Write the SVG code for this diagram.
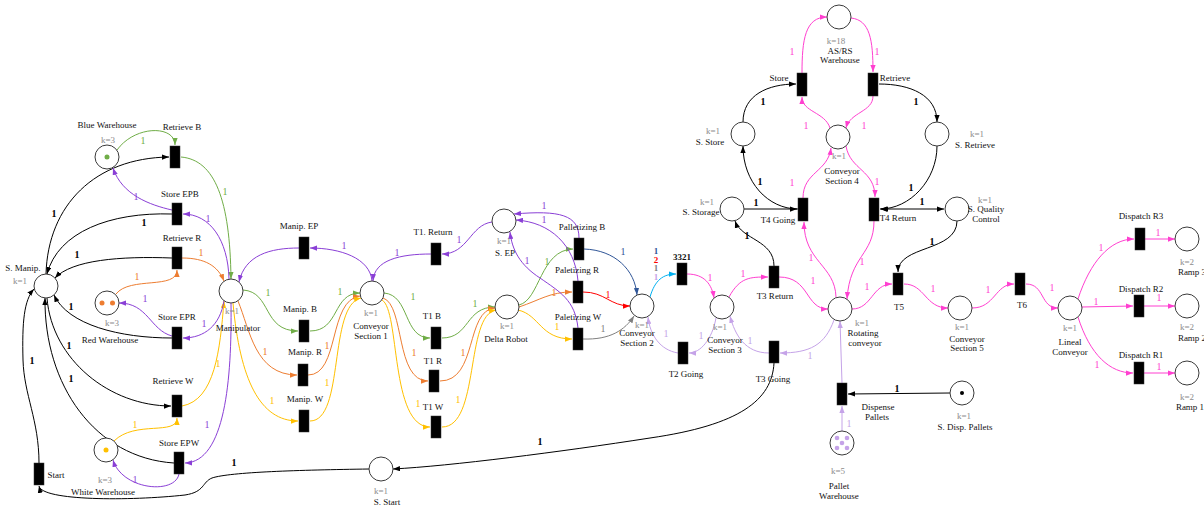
<svg xmlns="http://www.w3.org/2000/svg" width="1204" height="506" viewBox="0 0 1204 506">
<style>
.pl{fill:#fff;stroke:#3a3a3a;stroke-width:1}
.tr{fill:#000;stroke:#333;stroke-width:0.5}
text{font-family:"Liberation Serif","Times New Roman",serif;text-anchor:middle}
.t{font-size:9px;fill:#111}
.kk{font-size:9px;fill:#8c8c8c}
.n{font-size:10px}
.nb{font-size:10px;font-weight:bold;fill:#000}
.a{fill:none;stroke-width:1}
.k{stroke:#000}.g{stroke:#70ad47}.o{stroke:#ed7d31}.y{stroke:#ffc000}.p{stroke:#8a3fd6}
.b{stroke:#2f5597}.r{stroke:#ff0000}.gy{stroke:#7f7f7f}.l{stroke:#c5a3e8}.c{stroke:#00b0f0}.m{stroke:#ff3fd0}
.fg{fill:#70ad47}.fo{fill:#ed7d31}.fy{fill:#ffc000}.fp{fill:#8a3fd6}.fb{fill:#2f5597}.fr{fill:#ff0000}.fgy{fill:#7f7f7f}.fl{fill:#c5a3e8}.fm{fill:#ff3fd0}
.k{marker-end:url(#ak)}.g{marker-end:url(#ag)}.o{marker-end:url(#ao)}.y{marker-end:url(#ay)}.p{marker-end:url(#ap)}
.b{marker-end:url(#ab)}.r{marker-end:url(#ar)}.gy{marker-end:url(#agy)}.l{marker-end:url(#al)}.c{marker-end:url(#ac)}.m{marker-end:url(#am)}
</style>
<defs>
<marker id="ak" viewBox="0 0 8 6" refX="8" refY="3" markerWidth="7" markerHeight="5.5" orient="auto-start-reverse" markerUnits="userSpaceOnUse"><path d="M0,0L8,3L0,6z" fill="#000"/></marker>
<marker id="ag" viewBox="0 0 8 6" refX="8" refY="3" markerWidth="7" markerHeight="5.5" orient="auto" markerUnits="userSpaceOnUse"><path d="M0,0L8,3L0,6z" fill="#70ad47"/></marker>
<marker id="ao" viewBox="0 0 8 6" refX="8" refY="3" markerWidth="7" markerHeight="5.5" orient="auto" markerUnits="userSpaceOnUse"><path d="M0,0L8,3L0,6z" fill="#ed7d31"/></marker>
<marker id="ay" viewBox="0 0 8 6" refX="8" refY="3" markerWidth="7" markerHeight="5.5" orient="auto" markerUnits="userSpaceOnUse"><path d="M0,0L8,3L0,6z" fill="#ffc000"/></marker>
<marker id="ap" viewBox="0 0 8 6" refX="8" refY="3" markerWidth="7" markerHeight="5.5" orient="auto" markerUnits="userSpaceOnUse"><path d="M0,0L8,3L0,6z" fill="#8a3fd6"/></marker>
<marker id="ab" viewBox="0 0 8 6" refX="8" refY="3" markerWidth="7" markerHeight="5.5" orient="auto" markerUnits="userSpaceOnUse"><path d="M0,0L8,3L0,6z" fill="#2f5597"/></marker>
<marker id="ar" viewBox="0 0 8 6" refX="8" refY="3" markerWidth="7" markerHeight="5.5" orient="auto" markerUnits="userSpaceOnUse"><path d="M0,0L8,3L0,6z" fill="#ff0000"/></marker>
<marker id="agy" viewBox="0 0 8 6" refX="8" refY="3" markerWidth="7" markerHeight="5.5" orient="auto" markerUnits="userSpaceOnUse"><path d="M0,0L8,3L0,6z" fill="#7f7f7f"/></marker>
<marker id="al" viewBox="0 0 8 6" refX="8" refY="3" markerWidth="7" markerHeight="5.5" orient="auto" markerUnits="userSpaceOnUse"><path d="M0,0L8,3L0,6z" fill="#c5a3e8"/></marker>
<marker id="ac" viewBox="0 0 8 6" refX="8" refY="3" markerWidth="7" markerHeight="5.5" orient="auto" markerUnits="userSpaceOnUse"><path d="M0,0L8,3L0,6z" fill="#00b0f0"/></marker>
<marker id="am" viewBox="0 0 8 6" refX="8" refY="3" markerWidth="7" markerHeight="5.5" orient="auto" markerUnits="userSpaceOnUse"><path d="M0,0L8,3L0,6z" fill="#ff3fd0"/></marker>
</defs>
<rect width="1204" height="506" fill="#fff"/>

<g id="connectors">
<!-- black -->
<path class="a k" d="M46,274 C48,205 95,158 169,157"/>
<path class="a k" d="M172,214 C110,212 58,232 47,274"/>
<path class="a k" d="M172,258 C120,256 72,260 55,278"/>
<path class="a k" d="M172,338 C120,338 68,325 54,295"/>
<path class="a k" d="M47,298 C52,360 110,406 171,406"/>
<path class="a k" d="M174,463 C95,458 44,385 45,298"/>
<path class="a k" d="M39,463 C39,420 24,395 23,360 C22,322 24,300 34,289"/>
<path class="a k" d="M369,469 C300,470 230,472 212,478 C202,482 205,492 185,495 C130,501 42,501 39,486"/>
<path class="a k" d="M774,363 C772,400 740,425 650,438 C560,452 450,466 393,469"/>
<path class="a k" d="M774,266 C774,240 742,240 735,221"/>
<path class="a k" d="M744,209 L797,209"/>
<path class="a k" d="M743,122 C743,95 768,84 796,84"/>
<path class="a k" d="M879,84 C910,84 937,95 937,122"/>
<path class="a k" d="M798,209 C768,209 743,182 743,146"/>
<path class="a k" d="M937,146 C937,180 910,209 880,209"/>
<path class="a k" d="M881,209 L944,209" marker-start="url(#ak)"/>
<path class="a k" d="M957,221 C957,252 898,245 898,272"/>
<path class="a k" d="M950,393 L848,394"/>
<!-- green -->
<path class="a g" d="M117,150 C135,125 175,125 175,145"/>
<path class="a g" d="M181,157 C215,160 230,200 231,279"/>
<path class="a g" d="M243,290 C272,292 262,331 298,331"/>
<path class="a g" d="M310,331 C340,331 332,293 360,293"/>
<path class="a g" d="M384,293 C410,295 403,338 430,338"/>
<path class="a g" d="M442,338 C470,338 465,307 495,307"/>
<path class="a g" d="M519,305 C540,300 540,250 573,249"/>
<!-- orange -->
<path class="a o" d="M182,258 C205,258 218,266 224,281"/>
<path class="a o" d="M116,294 C130,276 177,290 177,270"/>
<path class="a o" d="M238,301 C250,330 255,375 297,375"/>
<path class="a o" d="M308,375 C340,375 328,300 360,296"/>
<path class="a o" d="M383,298 C405,305 395,381 428,381"/>
<path class="a o" d="M440,381 C478,381 465,310 495,308"/>
<path class="a o" d="M519,307 C540,300 550,292 572,292"/>
<!-- yellow -->
<path class="a y" d="M182,406 C215,400 220,350 224,301"/>
<path class="a y" d="M114,441 C135,420 177,436 177,418"/>
<path class="a y" d="M233,303 C240,380 260,421 298,421"/>
<path class="a y" d="M310,421 C345,421 328,305 361,298"/>
<path class="a y" d="M382,300 C400,310 390,427 430,427"/>
<path class="a y" d="M442,427 C480,427 465,315 496,310"/>
<path class="a y" d="M518,310 C540,315 540,339 572,339"/>
<!-- purple -->
<path class="a p" d="M172,210 C150,205 122,195 113,168"/>
<path class="a p" d="M229,279 C228,240 210,214 183,214"/>
<path class="a p" d="M224,301 C220,325 205,338 183,338"/>
<path class="a p" d="M172,336 C150,330 148,303 119,303"/>
<path class="a p" d="M231,303 C232,380 225,462 185,463"/>
<path class="a p" d="M179,474 C175,495 122,490 113,460"/>
<path class="a p" d="M299,248 C270,248 245,255 239,282"/>
<path class="a p" d="M372,281 C370,258 340,248 310,248"/>
<path class="a p" d="M431,254 C400,254 374,260 373,281"/>
<path class="a p" d="M492,222 C470,225 468,254 442,254"/>
<path class="a p" d="M579,238 C579,215 560,210 514,214"/>
<path class="a p" d="M578,281 C575,245 550,222 516,220"/>
<path class="a p" d="M578,328 C575,300 560,292 540,278 C520,265 512,250 510,232"/>
<!-- others -->
<path class="a b" d="M584,249 C615,250 635,270 637,295"/>
<path class="a r" d="M583,292 C605,292 610,306 630,306"/>
<path class="a gy" d="M583,339 C610,340 625,330 634,316"/>
<path class="a l" d="M678,353 C660,350 650,335 648,317"/>
<path class="a l" d="M716,318 C712,340 700,353 689,353"/>
<path class="a l" d="M834,320 C825,345 810,353 780,353"/>
<path class="a l" d="M769,353 C745,353 735,335 730,316"/>
<path class="a l" d="M842,431 L842,406"/>
<path class="a l" d="M842,383 L840,321"/>
<path class="a c" d="M650,297 C655,280 663,274 676,274"/>
<!-- magenta -->
<path class="a m" d="M687,274 C705,274 712,285 714,298"/>
<path class="a m" d="M729,297 C740,277 750,277 768,277"/>
<path class="a m" d="M779,277 C810,277 805,309 828,309"/>
<path class="a m" d="M836,297 C835,265 804,262 804,222"/>
<path class="a m" d="M874,221 C874,255 850,255 847,299"/>
<path class="a m" d="M852,309 C872,309 872,284 892,284"/>
<path class="a m" d="M904,284 C925,284 925,308 948,308"/>
<path class="a m" d="M972,308 C995,308 995,284 1014,284"/>
<path class="a m" d="M1026,284 C1045,284 1040,308 1058,308"/>
<path class="a m" d="M1078,299 C1090,262 1110,239 1134,239"/>
<path class="a m" d="M1082,307 L1133,306"/>
<path class="a m" d="M1078,317 C1090,355 1110,373 1133,373"/>
<path class="a m" d="M1145,239 L1175,239"/>
<path class="a m" d="M1144,306 L1175,306"/>
<path class="a m" d="M1144,373 L1175,373"/>
<path class="a m" d="M802,73 C802,40 805,17 827,17"/>
<path class="a m" d="M851,18 C870,20 873,40 873,72"/>
<path class="a m" d="M830,128 C825,112 802,112 802,97"/>
<path class="a m" d="M873,96 C873,112 850,112 846,128"/>
<path class="a m" d="M803,198 C803,172 828,172 831,148"/>
<path class="a m" d="M846,146 C850,170 875,170 875,197"/>
<!-- arc weights -->
<g class="nb">
<text x="54" y="217">1</text><text x="144" y="226">1</text><text x="77" y="258">1</text><text x="71" y="310">1</text>
<text x="69" y="349">1</text><text x="71" y="382">1</text><text x="32" y="364">1</text><text x="234" y="466">1</text>
<text x="540" y="445">1</text><text x="747" y="239">1</text><text x="756" y="206">1</text><text x="763" y="105">1</text>
<text x="916" y="105">1</text><text x="760" y="185">1</text><text x="911" y="191">1</text><text x="922" y="205">1</text>
<text x="932" y="245">1</text><text x="897" y="392">1</text>
</g>
<g class="n fg">
<text x="143" y="144">1</text><text x="225" y="195">1</text><text x="268" y="296">1</text><text x="340" y="295">1</text>
<text x="413" y="300">1</text><text x="475" y="307">1</text><text x="547" y="265">1</text>
</g>
<g class="n fo">
<text x="201" y="256">1</text><text x="137" y="280">1</text><text x="265" y="355">1</text><text x="327" y="349">1</text>
<text x="414" y="356">1</text><text x="463" y="356">1</text><text x="554" y="296">1</text>
</g>
<g class="n fy">
<text x="218" y="367">1</text><text x="135" y="428">1</text><text x="272" y="404">1</text><text x="327" y="386">1</text>
<text x="418" y="407">1</text><text x="458" y="403">1</text><text x="557" y="330">1</text>
</g>
<g class="n fp">
<text x="136" y="200">1</text><text x="208" y="222">1</text><text x="204" y="327">1</text><text x="145" y="302">1</text>
<text x="207" y="428">1</text><text x="135" y="483">1</text><text x="344" y="249">1</text><text x="397" y="256">1</text>
<text x="459" y="243">1</text><text x="544" y="209">1</text><text x="544" y="223">1</text><text x="527" y="264">1</text>
</g>
<text class="n fb" x="623" y="255">1</text>
<text class="n fr" x="608" y="298">1</text>
<text class="n fgy" x="603" y="332">1</text>
<g class="n fl">
<text x="666" y="337">1</text><text x="701" y="339">1</text><text x="810" y="359">1</text><text x="750" y="344">1</text><text x="849" y="427">1</text>
</g>
<g class="n fm">
<text x="710" y="281">1</text><text x="743" y="277">1</text><text x="813" y="284">1</text><text x="811" y="261">1</text>
<text x="862" y="265">1</text><text x="867" y="290">1</text><text x="933" y="292">1</text><text x="988" y="293">1</text>
<text x="1052" y="291">1</text><text x="1101" y="251">1</text><text x="1096" y="305">1</text><text x="1097" y="368">1</text>
<text x="1158" y="236">1</text><text x="1159" y="301">1</text><text x="1159" y="370">1</text>
<text x="792" y="55">1</text><text x="877" y="55">1</text><text x="806" y="129">1</text><text x="864" y="129">1</text>
<text x="792" y="186">1</text><text x="877" y="185">1</text>
</g>
<g style="font-size:9px;font-weight:bold">
<text x="656" y="254" class="fb">1</text><text x="656" y="262.5" class="fr">2</text><text x="656" y="271" class="fgy">1</text><text x="656" y="279.5" class="fl">1</text>
</g>
</g>

<!-- places -->
<g id="p-blue-warehouse"><circle class="pl" cx="107" cy="157" r="12"/><circle cx="107" cy="157" r="2.5" fill="#70ad47"/><text class="t" x="107" y="128">Blue Warehouse</text><text class="kk" x="108" y="143">k=3</text></g>
<g id="p-s-manip"><circle class="pl" cx="46" cy="286" r="12"/><text class="t" x="23" y="271">S. Manip.</text><text class="kk" x="20" y="284">k=1</text></g>
<g id="p-red-warehouse"><circle class="pl" cx="107" cy="303" r="12"/><circle cx="102" cy="303" r="2.5" fill="#ed7d31"/><circle cx="112.5" cy="303" r="2.5" fill="#ed7d31"/><text class="kk" x="112" y="326">k=3</text><text class="t" x="110" y="343">Red Warehouse</text></g>
<g id="p-white-warehouse"><circle class="pl" cx="106" cy="450" r="12"/><circle cx="106" cy="450" r="2.5" fill="#ffc000"/><text class="kk" x="105" y="483">k=3</text><text class="t" x="103" y="495">White Warehouse</text></g>
<g id="p-manipulator"><circle class="pl" cx="231" cy="291" r="12"/><text class="kk" x="232" y="314">k=1</text><text class="t" x="238" y="331">Manipulator</text></g>
<g id="p-conveyor1"><circle class="pl" cx="372" cy="293" r="12"/><text class="kk" x="371" y="316">k=1</text><text class="t" x="371" y="329">Conveyor</text><text class="t" x="371" y="339">Section 1</text></g>
<g id="p-s-ep"><circle class="pl" cx="504" cy="221" r="12"/><text class="kk" x="504" y="244">k=1</text><text class="t" x="505" y="256">S. EP</text></g>
<g id="p-delta-robot"><circle class="pl" cx="507" cy="307" r="12"/><text class="kk" x="507" y="329">k=1</text><text class="t" x="506" y="342">Delta Robot</text></g>
<g id="p-conveyor2"><circle class="pl" cx="642" cy="306" r="12"/><text class="kk" x="642" y="328">k=1</text><text class="t" x="637" y="336">Conveyor</text><text class="t" x="637" y="346">Section 2</text></g>
<g id="p-conveyor3"><circle class="pl" cx="722" cy="307" r="12"/><text class="kk" x="720" y="330">k=1</text><text class="t" x="725" y="343">Conveyor</text><text class="t" x="725" y="353">Section 3</text></g>
<g id="p-s-start"><circle class="pl" cx="381" cy="469" r="12"/><text class="kk" x="381" y="494">k=1</text><text class="t" x="387" y="505">S. Start</text></g>
<g id="p-s-storage"><circle class="pl" cx="732" cy="209" r="12"/><text class="kk" x="707" y="205">k=1</text><text class="t" x="701" y="215">S. Storage</text></g>
<g id="p-s-store"><circle class="pl" cx="743" cy="134" r="12"/><text class="kk" x="713" y="134">k=1</text><text class="t" x="710" y="145">S. Store</text></g>
<g id="p-asrs"><circle class="pl" cx="839" cy="17" r="12"/><text class="kk" x="836" y="44">k=18</text><text class="t" x="840" y="54">AS/RS</text><text class="t" x="840" y="63">Warehouse</text></g>
<g id="p-conveyor4"><circle class="pl" cx="838" cy="137" r="12"/><text class="kk" x="839" y="159">k=1</text><text class="t" x="842" y="174">Conveyor</text><text class="t" x="842" y="184">Section 4</text></g>
<g id="p-s-retrieve"><circle class="pl" cx="937" cy="134" r="12"/><text class="kk" x="977" y="137">k=1</text><text class="t" x="975" y="148">S. Retrieve</text></g>
<g id="p-s-quality"><circle class="pl" cx="957" cy="209" r="12"/><text class="kk" x="985" y="203">k=1</text><text class="t" x="986" y="212">S. Quality</text><text class="t" x="986" y="222">Control</text></g>
<g id="p-rotating"><circle class="pl" cx="840" cy="309" r="12"/><text class="kk" x="862" y="326">k=1</text><text class="t" x="863" y="336">Rotating</text><text class="t" x="865" y="346">conveyor</text></g>
<g id="p-conveyor5"><circle class="pl" cx="960" cy="308" r="12"/><text class="kk" x="962" y="330">k=1</text><text class="t" x="967" y="342">Conveyor</text><text class="t" x="967" y="351">Section 5</text></g>
<g id="p-lineal"><circle class="pl" cx="1070" cy="308" r="12"/><text class="kk" x="1070" y="331">k=1</text><text class="t" x="1070" y="345">Lineal</text><text class="t" x="1070" y="355">Conveyor</text></g>
<g id="p-ramp3"><circle class="pl" cx="1187" cy="239" r="12"/><text class="kk" x="1187" y="265">k=2</text><text class="t" x="1192" y="275">Ramp 3</text></g>
<g id="p-ramp2"><circle class="pl" cx="1187" cy="306" r="12"/><text class="kk" x="1187" y="330">k=2</text><text class="t" x="1192" y="341">Ramp 2</text></g>
<g id="p-ramp1"><circle class="pl" cx="1187" cy="373" r="12"/><text class="kk" x="1187" y="400">k=2</text><text class="t" x="1190" y="410">Ramp 1</text></g>
<g id="p-s-disp"><circle class="pl" cx="962" cy="393" r="12"/><circle cx="962" cy="393" r="2" fill="#000"/><text class="kk" x="964" y="419">k=1</text><text class="t" x="965" y="430">S. Disp. Pallets</text></g>
<g id="p-pallet-warehouse"><circle class="pl" cx="842" cy="443" r="12"/><g fill="#c5a3e8"><circle cx="837" cy="438" r="2.3"/><circle cx="847" cy="438" r="2.3"/><circle cx="842" cy="443" r="2.3"/><circle cx="837" cy="448" r="2.3"/><circle cx="847" cy="448" r="2.3"/></g><text class="kk" x="838" y="474">k=5</text><text class="t" x="839" y="489">Pallet</text><text class="t" x="839" y="499">Warehouse</text></g>

<!-- transitions -->
<g id="t-retrieve-b"><rect class="tr" x="170" y="146" width="10" height="22"/><text class="t" x="182" y="130">Retrieve B</text></g>
<g id="t-store-epb"><rect class="tr" x="172" y="203" width="10" height="22"/><text class="t" x="180" y="197">Store EPB</text></g>
<g id="t-retrieve-r"><rect class="tr" x="172" y="247" width="10" height="22"/><text class="t" x="182" y="241">Retrieve R</text></g>
<g id="t-store-epr"><rect class="tr" x="172" y="327" width="10" height="22"/><text class="t" x="177" y="320">Store EPR</text></g>
<g id="t-retrieve-w"><rect class="tr" x="172" y="395" width="10" height="22"/><text class="t" x="173" y="384">Retrieve W</text></g>
<g id="t-store-epw"><rect class="tr" x="174" y="452" width="10" height="22"/><text class="t" x="179" y="446">Store EPW</text></g>
<g id="t-start"><rect class="tr" x="34" y="463" width="10" height="22"/><text class="t" x="56" y="478">Start</text></g>
<g id="t-manip-ep"><rect class="tr" x="299" y="237" width="10" height="22"/><text class="t" x="299" y="229">Manip. EP</text></g>
<g id="t-manip-b"><rect class="tr" x="299" y="320" width="10" height="22"/><text class="t" x="300" y="312">Manip. B</text></g>
<g id="t-manip-r"><rect class="tr" x="298" y="364" width="10" height="22"/><text class="t" x="305" y="355">Manip. R</text></g>
<g id="t-manip-w"><rect class="tr" x="299" y="410" width="10" height="22"/><text class="t" x="305" y="402">Manip. W</text></g>
<g id="t-t1-return"><rect class="tr" x="431" y="243" width="10" height="22"/><text class="t" x="433" y="235">T1. Return</text></g>
<g id="t-t1-b"><rect class="tr" x="431" y="327" width="10" height="22"/><text class="t" x="432" y="319">T1 B</text></g>
<g id="t-t1-r"><rect class="tr" x="429" y="370" width="10" height="22"/><text class="t" x="433" y="364">T1 R</text></g>
<g id="t-t1-w"><rect class="tr" x="431" y="416" width="10" height="22"/><text class="t" x="433" y="410">T1 W</text></g>
<g id="t-pal-b"><rect class="tr" x="574" y="238" width="10" height="22"/><text class="t" x="582" y="230">Palletizing B</text></g>
<g id="t-pal-r"><rect class="tr" x="573" y="281" width="10" height="22"/><text class="t" x="577" y="273">Paletizing R</text></g>
<g id="t-pal-w"><rect class="tr" x="573" y="328" width="10" height="22"/><text class="t" x="578" y="320">Paletizing W</text></g>
<g id="t-3321"><rect class="tr" x="677" y="263" width="10" height="22"/><text class="t" x="682" y="260" font-weight="bold">3321</text></g>
<g id="t-t2-going"><rect class="tr" x="678" y="342" width="10" height="22"/><text class="t" x="686" y="377">T2 Going</text></g>
<g id="t-t3-return"><rect class="tr" x="769" y="266" width="10" height="22"/><text class="t" x="775" y="299">T3 Return</text></g>
<g id="t-t3-going"><rect class="tr" x="769" y="341" width="10" height="22"/><text class="t" x="773" y="382">T3 Going</text></g>
<g id="t-store"><rect class="tr" x="797" y="73" width="10" height="23"/><text class="t" x="779" y="81">Store</text></g>
<g id="t-retrieve"><rect class="tr" x="868" y="73" width="10" height="23"/><text class="t" x="895" y="81">Retrieve</text></g>
<g id="t-t4-going"><rect class="tr" x="798" y="198" width="10" height="23"/><text class="t" x="778" y="223">T4 Going</text></g>
<g id="t-t4-return"><rect class="tr" x="869" y="198" width="10" height="23"/><text class="t" x="898" y="221">T4 Return</text></g>
<g id="t-t5"><rect class="tr" x="893" y="273" width="10" height="22"/><text class="t" x="899" y="310">T5</text></g>
<g id="t-t6"><rect class="tr" x="1015" y="273" width="10" height="22"/><text class="t" x="1022" y="308">T6</text></g>
<g id="t-dispatch-r3"><rect class="tr" x="1135" y="228" width="10" height="22"/><text class="t" x="1141" y="219">Dispatch R3</text></g>
<g id="t-dispatch-r2"><rect class="tr" x="1134" y="295" width="10" height="22"/><text class="t" x="1141" y="292">Dispatch R2</text></g>
<g id="t-dispatch-r1"><rect class="tr" x="1134" y="362" width="10" height="22"/><text class="t" x="1141" y="358">Dispatch R1</text></g>
<g id="t-dispense"><rect class="tr" x="837" y="383" width="10" height="22"/><text class="t" x="878" y="410">Dispense</text><text class="t" x="877" y="420">Pallets</text></g>
</svg>
